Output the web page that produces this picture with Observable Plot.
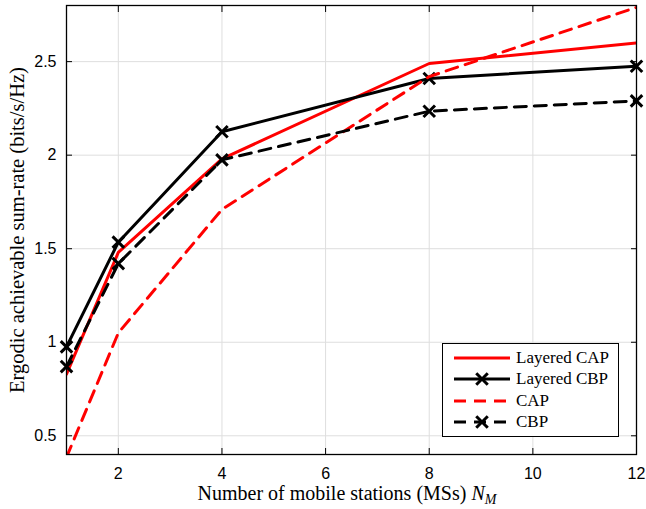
<!DOCTYPE html>
<html><head><meta charset="utf-8">
<script src="https://cdn.jsdelivr.net/npm/d3@7"></script>
<script src="https://cdn.jsdelivr.net/npm/@observablehq/plot@0.6"></script>
<style>
body{margin:0;background:#fff}
#wrap{position:relative;width:646px;height:509px}
#legend{position:absolute;left:442px;top:343px;width:175px;height:92px;border:1.3px solid #000;background:#fff;font-family:"Liberation Serif",serif;font-size:17px}
.row{position:absolute;left:10px;height:20px;display:flex;align-items:center}
.row span{margin-left:5px}
</style>
</head><body><div id="wrap"></div>
<script>
const nM = [1, 2, 4, 8, 12];
const layeredCAP = [0.83, 1.48, 1.98, 2.49, 2.60];
const layeredCBP = [0.975, 1.535, 2.125, 2.41, 2.475];
const cap = [0.385, 1.05, 1.71, 2.42, 2.79];
const cbp = [0.87, 1.42, 1.975, 2.235, 2.29];
const xTicks = [2, 4, 6, 8, 10, 12];
const yTicks = [0.5, 1, 1.5, 2, 2.5];
const seriesNames = ["Layered CAP", "Layered CBP", "CAP", "CBP"];
const seriesColors = ["#ff0000", "#000000", "#ff0000", "#000000"];
const seriesDash = [null, null, "12,8", "12,8"];
const seriesMarker = [false, true, false, true];
const seriesValues = [layeredCAP, layeredCBP, cap, cbp];

const series = seriesNames.map((name, i) => ({
  name, color: seriesColors[i], dash: seriesDash[i], marker: seriesMarker[i],
  data: nM.map((x, j) => ({x, y: seriesValues[i][j]}))
}));

const marks = [
  Plot.gridX(xTicks, {stroke: "#dedede", strokeOpacity: 1, strokeWidth: 1}),
  Plot.gridY(yTicks, {stroke: "#dedede", strokeOpacity: 1, strokeWidth: 1}),
  Plot.axisX(xTicks, {anchor: "bottom", tickSize: -6, tickFormat: () => "", label: null}),
  Plot.axisX(xTicks, {anchor: "top", tickSize: -6, tickFormat: () => "", label: null}),
  Plot.axisY(yTicks, {anchor: "left", tickSize: -6, tickFormat: () => "", label: null}),
  Plot.axisY(yTicks, {anchor: "right", tickSize: -6, tickFormat: () => "", label: null}),
  Plot.axisX(xTicks, {anchor: "bottom", tickSize: 0, tickPadding: 13, label: null, fill: "#000"}),
  Plot.axisY(yTicks, {anchor: "left", tickSize: 0, tickPadding: 10, label: null, fill: "#000", tickFormat: d => String(d)})
];
for (const s of series) {
  marks.push(Plot.line(s.data, {x: "x", y: "y", stroke: s.color, strokeWidth: 3, strokeDasharray: s.dash, clip: true}));
  if (s.marker) marks.push(Plot.dot(s.data, {x: "x", y: "y", symbol: "times", r: 5.3, stroke: s.color, strokeWidth: 3}));
}
marks.push(Plot.frame({stroke: "#000", strokeWidth: 1.3}));

const chart = Plot.plot({
  width: 646, height: 509,
  marginLeft: 66, marginRight: 10, marginTop: 5, marginBottom: 55,
  x: {domain: [1, 12]},
  y: {domain: [0.4, 2.8]},
  style: {fontFamily: "'Liberation Sans', Arial, sans-serif", fontSize: "16px", color: "#000", background: "#fff"},
  marks
});
document.getElementById("wrap").appendChild(chart);

const svg = d3.select(chart);
const xl = svg.append("text").attr("x", 347).attr("y", 500).attr("text-anchor", "middle")
  .attr("font-family", "'Liberation Serif', serif").attr("font-size", 20).attr("fill", "#000");
xl.append("tspan").text("Number of mobile stations (MSs) ");
xl.append("tspan").attr("font-style", "italic").text("N");
xl.append("tspan").attr("font-style", "italic").attr("font-size", 14).attr("dy", 4).text("M");
svg.append("text").attr("transform", "translate(24,230) rotate(-90)").attr("text-anchor", "middle")
  .attr("font-family", "'Liberation Serif', serif").attr("font-size", 20.5).attr("fill", "#000")
  .text("Ergodic achievable sum-rate (bits/s/Hz)");

const legend = document.createElement("div");
legend.id = "legend";
series.forEach((s, i) => {
  const row = document.createElement("div");
  row.className = "row";
  row.style.top = (4 + i * 21.3) + "px";
  const ns = "http://www.w3.org/2000/svg";
  const sv = document.createElementNS(ns, "svg");
  sv.setAttribute("width", 58); sv.setAttribute("height", 20);
  const ln = document.createElementNS(ns, "line");
  ln.setAttribute("x1", 1); ln.setAttribute("x2", 57); ln.setAttribute("y1", 10); ln.setAttribute("y2", 10);
  ln.setAttribute("stroke", s.color); ln.setAttribute("stroke-width", 3);
  if (s.dash) ln.setAttribute("stroke-dasharray", s.dash);
  sv.appendChild(ln);
  if (s.marker) {
    const p = document.createElementNS(ns, "path");
    p.setAttribute("d", d3.symbol(d3.symbolTimes, Math.PI * 5.3 * 5.3)());
    p.setAttribute("transform", "translate(29,10)");
    p.setAttribute("stroke", s.color); p.setAttribute("stroke-width", 3); p.setAttribute("fill", "none");
    sv.appendChild(p);
  }
  row.appendChild(sv);
  const t = document.createElement("span"); t.textContent = s.name;
  row.appendChild(t);
  legend.appendChild(row);
});
document.getElementById("wrap").appendChild(legend);
</script>
</body></html>
